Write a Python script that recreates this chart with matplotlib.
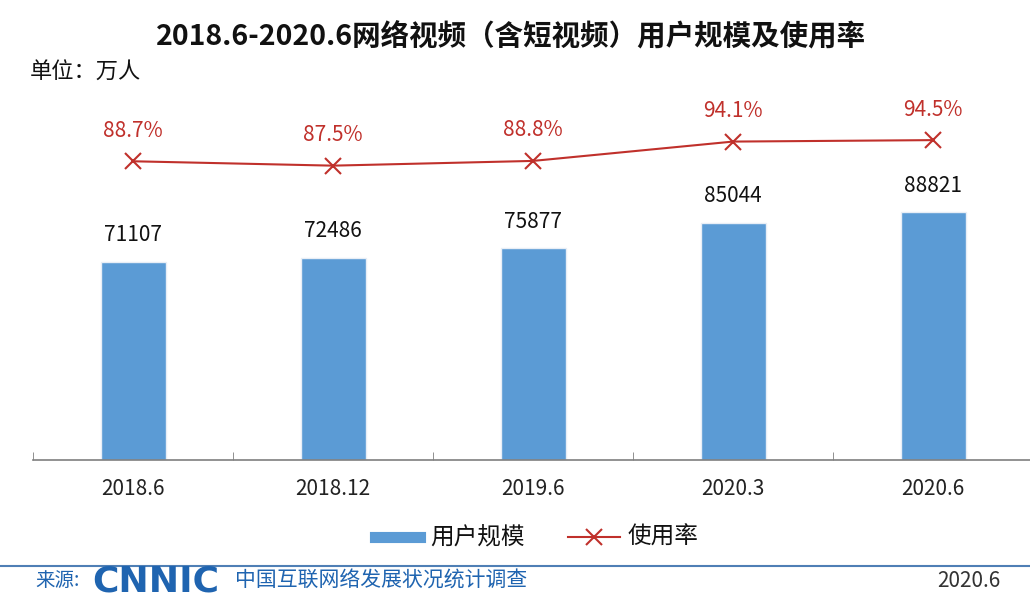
import matplotlib.pyplot as plt
import numpy as np

plt.rcParams['font.family'] = ['Noto Sans CJK SC', 'DejaVu Sans']

# 数据
periods = ['2018.6', '2018.12', '2019.6', '2020.3', '2020.6']
users = [71107, 72486, 75877, 85044, 88821]          # 万人
rate = [88.7, 87.5, 88.8, 94.1, 94.5]                # %

bar_color = '#5B9BD5'
line_color = '#C0302B'
blue = '#1F64B0'

fig = plt.figure(figsize=(10.3, 6.12), dpi=100)
fig.patch.set_facecolor('white')

ax = fig.add_axes([33 / 1030, 1 - 460 / 612, 1000 / 1030, 360 / 612])
ax.patch.set_alpha(0)
x = np.arange(len(periods))
ax.bar(x, users, width=0.325, color=bar_color, edgecolor='#e8eef6', linewidth=1, zorder=2)
ax.set_xlim(-0.5, 4.5)
ax.set_ylim(0, 129000)
ax.set_yticks([])
for s in ['top', 'right', 'left']:
    ax.spines[s].set_visible(False)
ax.spines['bottom'].set_color('#7f7f7f')
ax.spines['bottom'].set_linewidth(1.2)
ax.set_xticks(x)
ax.set_xticklabels(periods, fontsize=15, color='#222222')
ax.tick_params(axis='x', which='major', length=0, pad=13)
ax.set_xticks(np.arange(-0.5, 5, 1), minor=True)
ax.tick_params(axis='x', which='minor', direction='in', length=6, color='#7f7f7f')

for xi, v in zip(x, users):
    ax.annotate(str(v), (xi, v), xytext=(0, 11), textcoords='offset points',
                ha='center', va='bottom', fontsize=15, color='#111111')

ax2 = ax.twinx()
ax2.set_ylim(6.8, 105.5)
ax2.axis('off')
ax2.plot(x, rate, color=line_color, linewidth=1.5, marker='x', markersize=11,
         markeredgewidth=1.5, zorder=3)
for xi, v in zip(x, rate):
    ax2.annotate(f'{v}%', (xi, v), xytext=(0, 14), textcoords='offset points',
                 ha='center', va='bottom', fontsize=15, color=line_color)

# 标题
fig.text(511 / 1030, 1 - 37 / 612, '2018.6-2020.6网络视频（含短视频）用户规模及使用率',
         ha='center', va='center', fontsize=20.5, fontweight='bold', color='#111111')
fig.text(30 / 1030, 1 - 72 / 612, '单位：万人', ha='left', va='center',
         fontsize=16, color='#111111')

# 图例
lx, ly = 375 / 1030, 1 - 537 / 612
fig.add_artist(plt.Line2D([lx, lx + 45 / 1030], [ly, ly], color=bar_color, linewidth=8,
                          transform=fig.transFigure))
fig.text(430 / 1030, ly, '用户规模', ha='left', va='center', fontsize=17, color='#111111')
fig.add_artist(plt.Line2D([568 / 1030, 620 / 1030], [ly, ly], color=line_color, linewidth=1.5,
                          transform=fig.transFigure))
fig.add_artist(plt.Line2D([594 / 1030], [ly], color=line_color, marker='x', markersize=11,
                          markeredgewidth=1.5, transform=fig.transFigure))
fig.text(628 / 1030, ly, '使用率', ha='left', va='center', fontsize=17, color='#111111')

# 页脚
fy = 1 - 566 / 612
fig.add_artist(plt.Line2D([0, 1], [fy, fy], color='#4f7fb5', linewidth=1.5,
                          transform=fig.transFigure))
ty = 1 - 581 / 612
fig.text(35 / 1030, ty, '来源:', ha='left', va='center', fontsize=14, color=blue)
fig.text(92 / 1030, ty, 'CNNIC', ha='left', va='center', fontsize=26, fontweight='bold',
         color=blue, family='DejaVu Sans')
fig.text(235 / 1030, ty, '中国互联网络发展状况统计调查', ha='left', va='center',
         fontsize=15, color=blue)
fig.text(1000 / 1030, ty, '2020.6', ha='right', va='center', fontsize=15, color='#333333')

fig.savefig('out.png', dpi=100)
